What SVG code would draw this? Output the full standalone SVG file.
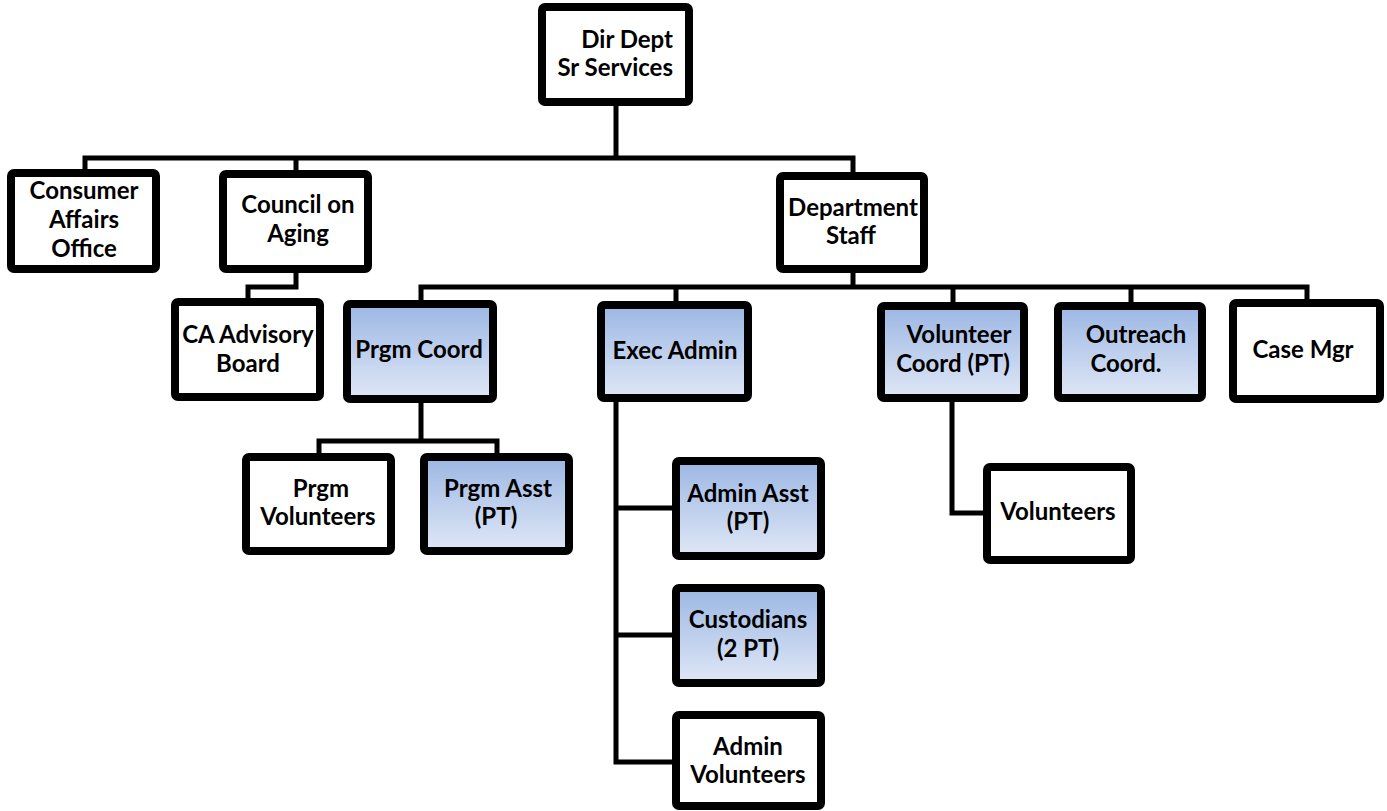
<svg xmlns="http://www.w3.org/2000/svg" width="1387" height="811" viewBox="0 0 1387 811">
<style>
.box{fill:#fff;stroke:#000;stroke-width:8;stroke-linejoin:round}
.blue{fill:url(#g)}
.ln{fill:none;stroke:#000;stroke-width:5;stroke-linejoin:miter;stroke-linecap:butt}
text{font-family:Lato,"Liberation Sans",sans-serif;font-weight:bold;font-size:24px;fill:#000;text-anchor:middle}
</style>
<defs>
<linearGradient id="g" x1="0" y1="0" x2="0" y2="1">
<stop offset="0" stop-color="#9cb7e3"/>
<stop offset="1" stop-color="#dfe7f6"/>
</linearGradient>
</defs>
<rect width="1387" height="811" fill="#fff"/>
<g id="connectors">
<path class="ln" d="M616 100 V158"/>
<path class="ln" d="M85 175 V158 H853 V178"/>
<path class="ln" d="M296 158 V176"/>
<path class="ln" d="M296 268 V287 H248 V303"/>
<path class="ln" d="M853 268 V287"/>
<path class="ln" d="M421 305 V287 H1307 V305"/>
<path class="ln" d="M676 287 V306"/>
<path class="ln" d="M953 287 V307"/>
<path class="ln" d="M1131 287 V307"/>
<path class="ln" d="M421 398 V441"/>
<path class="ln" d="M319 458 V441 H497 V458"/>
<path class="ln" d="M616 398 V762 H678"/>
<path class="ln" d="M616 508 H678"/>
<path class="ln" d="M616 635 H678"/>
<path class="ln" d="M952 398 V513 H989"/>
</g>
<g id="n-dir"><rect class="box" x="542" y="7" width="147" height="95" rx="3"/><text x="673" y="48" style="text-anchor:end">Dir Dept</text><text x="673" y="76" style="text-anchor:end">Sr Services</text></g>
<g id="n-consumer"><rect class="box" x="11" y="173" width="145" height="96" rx="3"/><text x="84" y="199">Consumer</text><text x="84" y="228">Affairs</text><text x="84" y="257">Office</text></g>
<g id="n-council"><rect class="box" x="223" y="174" width="145" height="95" rx="3"/><text x="298" y="213">Council on</text><text x="298" y="242">Aging</text></g>
<g id="n-deptstaff"><rect class="box" x="780" y="176" width="144" height="93" rx="3"/><text x="853" y="216">Department</text><text x="851" y="244">Staff</text></g>
<g id="n-ca"><rect class="box" x="175" y="302" width="145" height="95" rx="3"/><text x="248" y="343">CA Advisory</text><text x="248" y="372">Board</text></g>
<g id="n-prgmcoord"><rect class="box blue" x="347" y="304" width="146" height="95" rx="3"/><text x="419" y="358">Prgm Coord</text></g>
<g id="n-execadmin"><rect class="box blue" x="601" y="305" width="147" height="93" rx="3"/><text x="675" y="359">Exec Admin</text></g>
<g id="n-volcoord"><rect class="box blue" x="881" y="306" width="143" height="92" rx="3"/><text x="959" y="343">Volunteer</text><text x="953" y="372">Coord (PT)</text></g>
<g id="n-outreach"><rect class="box blue" x="1058" y="306" width="144" height="92" rx="3"/><text x="1136" y="343">Outreach</text><text x="1126" y="372">Coord.</text></g>
<g id="n-casemgr"><rect class="box" x="1233" y="303" width="147" height="96" rx="3"/><text x="1303" y="358">Case Mgr</text></g>
<g id="n-prgmvol"><rect class="box" x="246" y="457" width="145" height="94" rx="3"/><text x="321" y="497">Prgm</text><text x="318" y="525">Volunteers</text></g>
<g id="n-prgmasst"><rect class="box blue" x="424" y="457" width="145" height="94" rx="3"/><text x="498" y="497">Prgm Asst</text><text x="496" y="525">(PT)</text></g>
<g id="n-adminasst"><rect class="box blue" x="676" y="461" width="145" height="95" rx="3"/><text x="748" y="502">Admin Asst</text><text x="748" y="530">(PT)</text></g>
<g id="n-custodians"><rect class="box blue" x="676" y="588" width="145" height="95" rx="3"/><text x="748" y="628">Custodians</text><text x="748" y="657">(2 PT)</text></g>
<g id="n-adminvol"><rect class="box" x="676" y="715" width="145" height="91" rx="3"/><text x="748" y="755">Admin</text><text x="748" y="783">Volunteers</text></g>
<g id="n-volunteers"><rect class="box" x="987" y="467" width="144" height="93" rx="3"/><text x="1058" y="520">Volunteers</text></g>
</svg>
